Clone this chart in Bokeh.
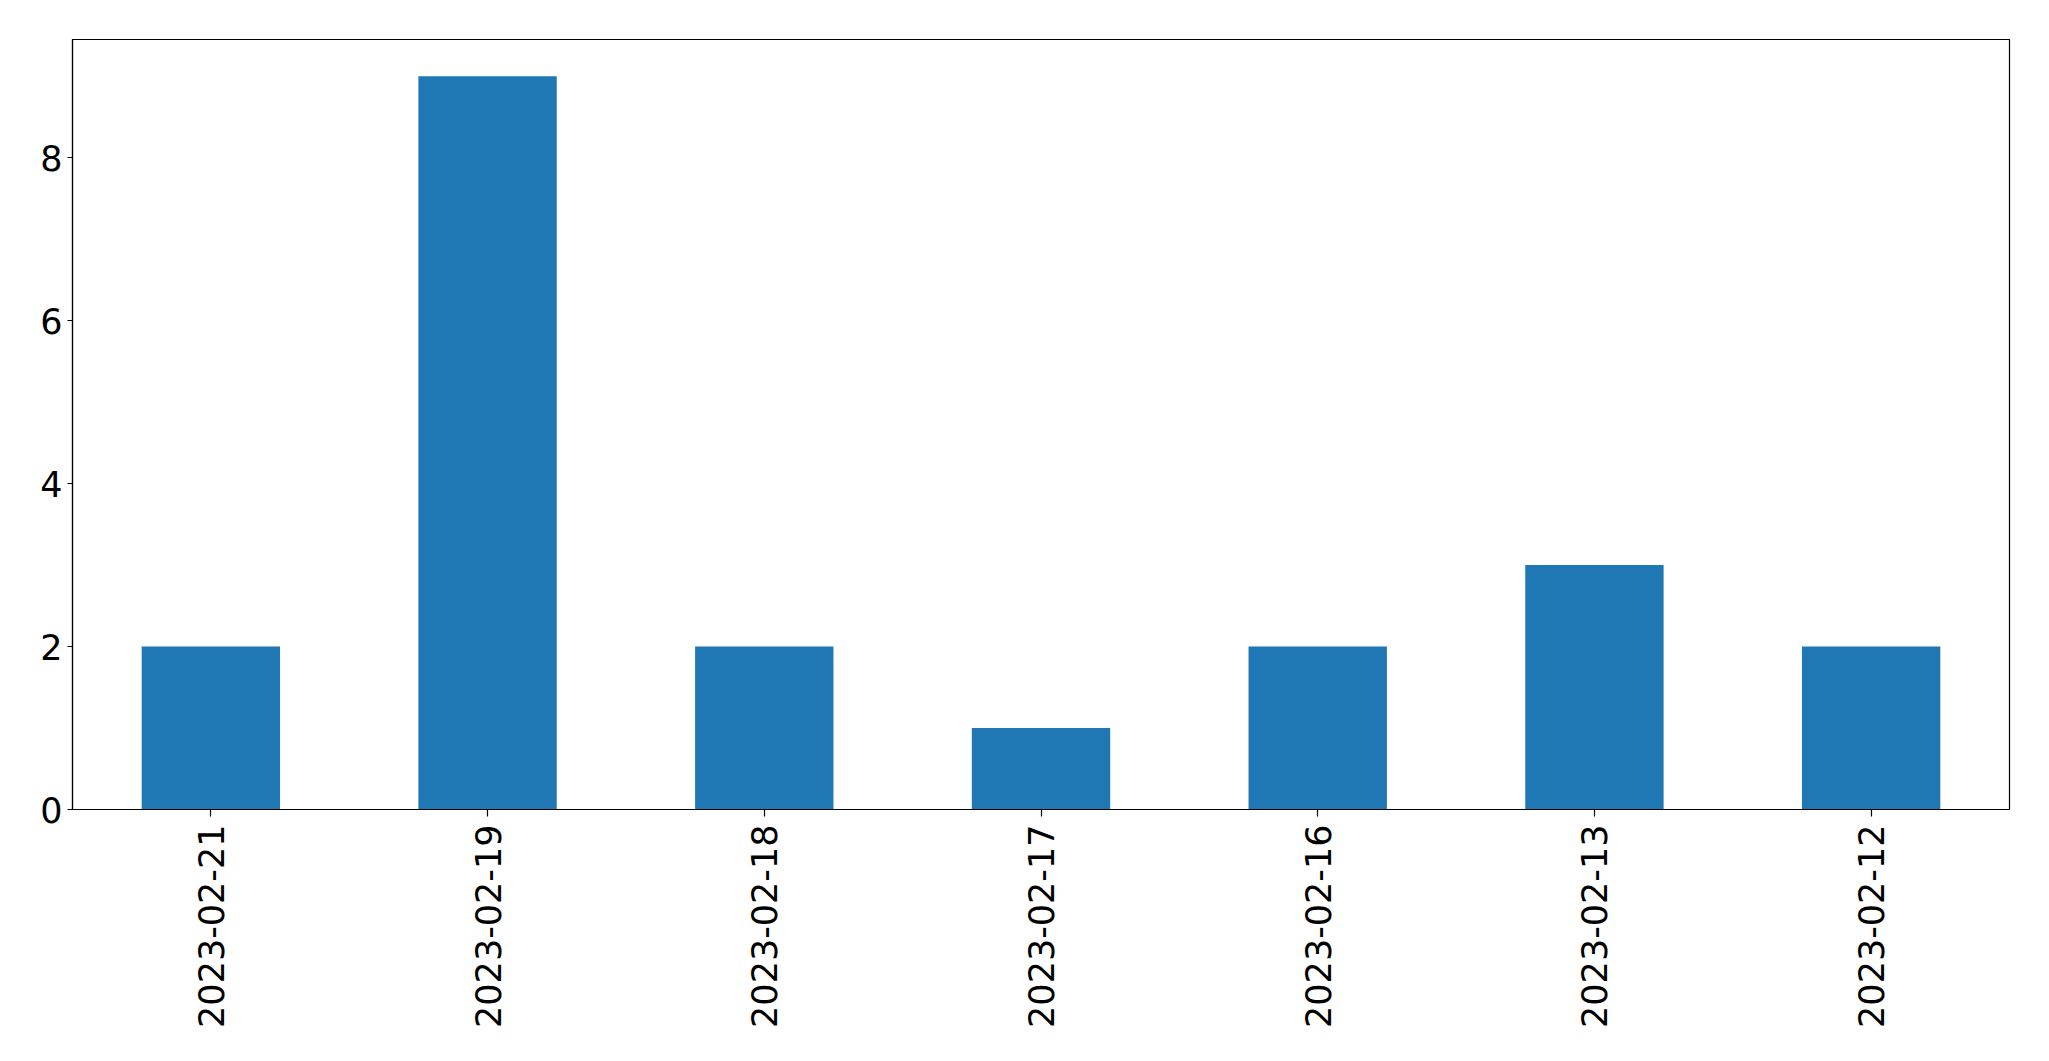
import math
from bokeh.plotting import figure
from bokeh.models import FixedTicker, Range1d, FactorRange, ColumnDataSource
from bokeh.embed import file_html
from bokeh.resources import INLINE

dates = ["2023-02-21", "2023-02-19", "2023-02-18", "2023-02-17",
         "2023-02-16", "2023-02-13", "2023-02-12"]
counts = [2, 9, 2, 1, 2, 3, 2]
y_ticks = [0, 2, 4, 6, 8]

src = ColumnDataSource(data=dict(date=dates, count=counts))

p = figure(frame_width=1937, frame_height=770, x_range=FactorRange(*dates),
           y_range=Range1d(0, max(counts) * 1.05),
           output_backend="svg", toolbar_location=None)
p.min_border_left = 72
p.min_border_right = 30
p.min_border_top = 39
p.min_border_bottom = 230

p.vbar(x="date", top="count", width=0.5, source=src,
       fill_color="#1f77b4", line_color=None)

p.xgrid.visible = False
p.ygrid.visible = False
p.outline_line_color = "black"
p.outline_line_width = 1.2

for ax in (p.xaxis[0], p.yaxis[0]):
    ax.axis_line_color = "black"
    ax.axis_line_width = 1.2
    ax.major_tick_line_color = "black"
    ax.major_tick_line_width = 1.2
    ax.major_tick_in = 0
    ax.minor_tick_line_color = None
    ax.major_label_text_font = "DejaVu Sans"
    ax.major_label_text_font_size = "35px"
    ax.major_label_text_color = "black"

p.xaxis.major_tick_out = 7
p.xaxis.major_label_standoff = 8
p.xaxis.major_label_orientation = math.pi / 2
p.yaxis.major_tick_out = 5
p.yaxis.major_label_standoff = 5
p.yaxis.ticker = FixedTicker(ticks=y_ticks)

open("out.html", "w").write(file_html(p, INLINE))
